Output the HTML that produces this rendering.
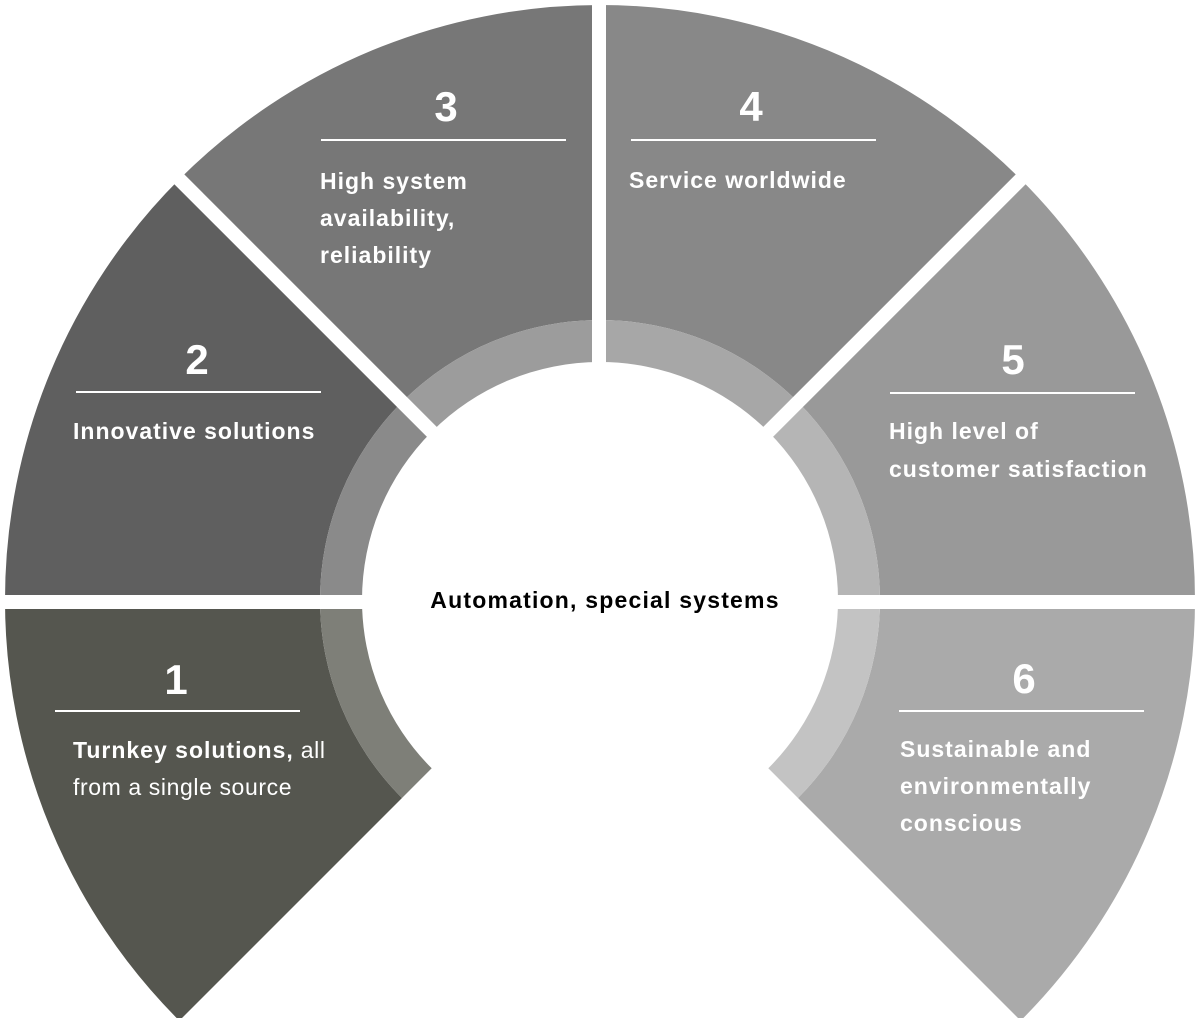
<!DOCTYPE html>
<html><head><meta charset="utf-8"><style>
html,body{margin:0;padding:0;background:#fff;width:1200px;height:1018px;overflow:hidden}
svg text{font-family:"Liberation Sans",sans-serif;fill:#fff}
.n{font-size:42px;font-weight:bold}
.t{font-size:23px;font-weight:bold;letter-spacing:1px}
.r{font-size:23px;font-weight:normal;letter-spacing:0.6px}
</style></head><body>
<svg width="1200" height="1018" viewBox="0 0 1200 1018" xmlns="http://www.w3.org/2000/svg">
<path d="M179.3,1020.7 A595,595 0 0 1 5,600 L320,600 A280,280 0 0 0 402,798 Z" fill="#55564f"/>
<path d="M402,798 A280,280 0 0 1 320,600 L362,600 A238,238 0 0 0 431.7,768.3 Z" fill="#7e7f78"/>
<path d="M5,600 A595,595 0 0 1 179.3,179.3 L402,402 A280,280 0 0 0 320,600 Z" fill="#5f5f5f"/>
<path d="M320,600 A280,280 0 0 1 402,402 L431.7,431.7 A238,238 0 0 0 362,600 Z" fill="#8a8a8a"/>
<path d="M179.3,179.3 A595,595 0 0 1 600,5 L600,320 A280,280 0 0 0 402,402 Z" fill="#777777"/>
<path d="M402,402 A280,280 0 0 1 600,320 L600,362 A238,238 0 0 0 431.7,431.7 Z" fill="#9c9c9c"/>
<path d="M600,5 A595,595 0 0 1 1020.7,179.3 L798,402 A280,280 0 0 0 600,320 Z" fill="#888888"/>
<path d="M600,320 A280,280 0 0 1 798,402 L768.3,431.7 A238,238 0 0 0 600,362 Z" fill="#a7a7a7"/>
<path d="M1020.7,179.3 A595,595 0 0 1 1195,600 L880,600 A280,280 0 0 0 798,402 Z" fill="#999999"/>
<path d="M798,402 A280,280 0 0 1 880,600 L838,600 A238,238 0 0 0 768.3,431.7 Z" fill="#b5b5b5"/>
<path d="M1195,600 A595,595 0 0 1 1020.7,1020.7 L798,798 A280,280 0 0 0 880,600 Z" fill="#aaaaaa"/>
<path d="M880,600 A280,280 0 0 1 798,798 L768.3,768.3 A238,238 0 0 0 838,600 Z" fill="#c3c3c3"/>
<g stroke="#fff" stroke-width="14">
<line x1="600" y1="602" x2="0" y2="602"/>
<line x1="600" y1="602" x2="1200" y2="602"/>
<line x1="599" y1="600" x2="599" y2="0"/>
<line x1="600" y1="600" x2="170" y2="170"/>
<line x1="600" y1="600" x2="1030" y2="170"/>
</g>
<g stroke="#fff" stroke-width="2">
<line x1="55" y1="711" x2="300" y2="711"/>
<line x1="76" y1="392" x2="321" y2="392"/>
<line x1="321" y1="140" x2="566" y2="140"/>
<line x1="631" y1="140" x2="876" y2="140"/>
<line x1="890" y1="393" x2="1135" y2="393"/>
<line x1="899" y1="711" x2="1144" y2="711"/>
</g>
<text class="n" x="176" y="694" text-anchor="middle">1</text>
<text class="t" x="73" y="758">Turnkey solutions,<tspan class="r"> all</tspan></text>
<text class="r" x="73" y="795">from a single source</text>
<text class="n" x="197" y="374" text-anchor="middle">2</text>
<text class="t" x="73" y="439">Innovative solutions</text>
<text class="n" x="446" y="121" text-anchor="middle">3</text>
<text class="t" x="320" y="189">High system</text>
<text class="t" x="320" y="226">availability,</text>
<text class="t" x="320" y="263">reliability</text>
<text class="n" x="751" y="121" text-anchor="middle">4</text>
<text class="t" x="629" y="188">Service worldwide</text>
<text class="n" x="1013" y="374" text-anchor="middle">5</text>
<text class="t" x="889" y="439">High level of</text>
<text class="t" x="889" y="477">customer satisfaction</text>
<text class="n" x="1024" y="693" text-anchor="middle">6</text>
<text class="t" x="900" y="757">Sustainable and</text>
<text class="t" x="900" y="794">environmentally</text>
<text class="t" x="900" y="831">conscious</text>
<text x="605" y="608" text-anchor="middle" style="font-size:23px;font-weight:bold;fill:#000;letter-spacing:1.2px">Automation, special systems</text>
</svg>
</body></html>
